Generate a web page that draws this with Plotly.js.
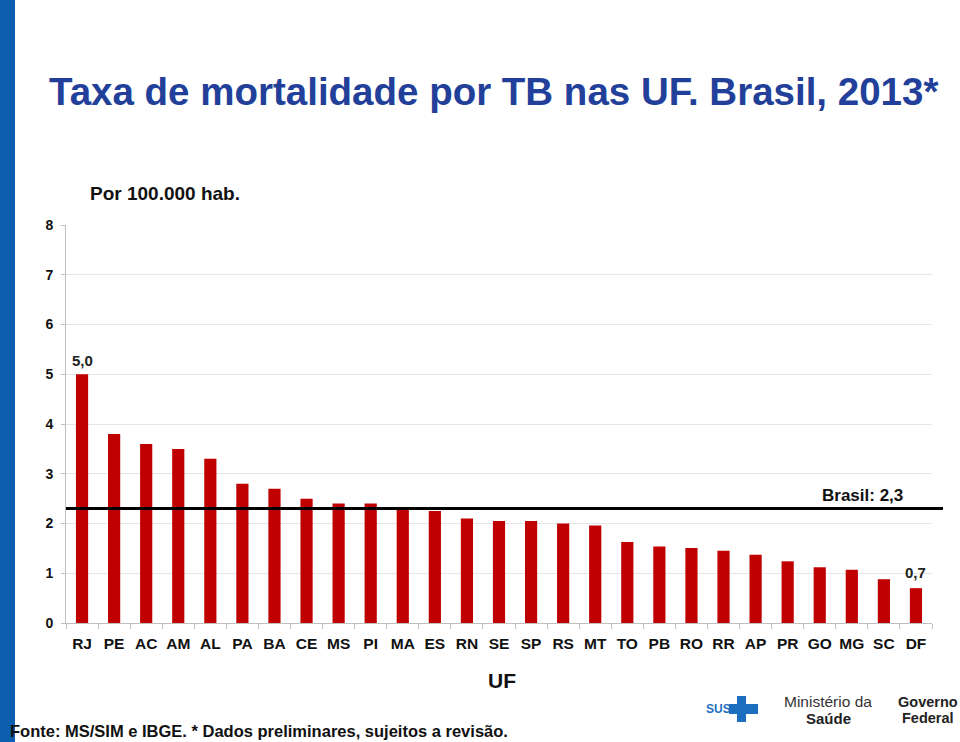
<!DOCTYPE html>
<html>
<head>
<meta charset="utf-8">
<script src="https://cdn.plot.ly/plotly-3.0.1.min.js"></script>
<style>
html,body{margin:0;padding:0;background:#fff;}
#chart{width:960px;height:742px;}
</style>
</head>
<body>
<div id="chart"></div>
<script>
const categories = ["RJ","PE","AC","AM","AL","PA","BA","CE","MS","PI","MA","ES","RN","SE","SP","RS","MT","TO","PB","RO","RR","AP","PR","GO","MG","SC","DF"];
const rates = [5.0,3.8,3.6,3.5,3.3,2.8,2.7,2.5,2.4,2.4,2.3,2.25,2.1,2.05,2.05,2.0,1.96,1.63,1.54,1.51,1.45,1.37,1.24,1.12,1.07,0.88,0.7];
const brasilRate = 2.3;
const yTicks = [0,1,2,3,4,5,6,7,8];

const fontFam = "Liberation Sans, Arial, sans-serif";
const fmt = v => v.toFixed(1).replace('.', ',');

const W = 960, H = 742;
const mL = 66, mR = 28, mT = 225, mB = 119;
const pw = W - mL - mR, ph = H - mT - mB;
// convert page pixel coordinates to paper coordinates
const px = x => (x - mL) / pw;
const py = y => (H - mB - y) / ph;

const trace = {
  type: 'bar',
  x: categories,
  y: rates,
  marker: {color: '#C00000'},
  hoverinfo: 'x+y'
};

const annotations = [
  {x: categories[0], y: rates[0], xref:'x', yref:'y', text: '<b>' + fmt(rates[0]) + '</b>', showarrow:false, yanchor:'bottom', yshift:3,
   font:{family:fontFam, size:15, color:'#222'}},
  {x: categories[categories.length-1], y: rates[rates.length-1], xref:'x', yref:'y', text: '<b>' + fmt(rates[rates.length-1]) + '</b>', showarrow:false, yanchor:'bottom', yshift:5,
   font:{family:fontFam, size:15, color:'#222'}},
  {x: px(862), y: brasilRate, xref:'paper', yref:'y', text: '<b>Brasil: ' + fmt(brasilRate) + '</b>', showarrow:false, xanchor:'center', yanchor:'bottom', yshift:2,
   font:{family:fontFam, size:17, color:'#111'}},
  {x: px(493), y: py(92), xref:'paper', yref:'paper', text: '<b>Taxa de mortalidade por TB nas UF. Brasil, 2013*</b>', showarrow:false,
   xanchor:'center', yanchor:'middle', font:{family:fontFam, size:38.5, color:'#22409A'}},
  {x: px(88), y: py(193), xref:'paper', yref:'paper', text: '<b>Por 100.000 hab.</b>', showarrow:false,
   xanchor:'left', yanchor:'middle', font:{family:fontFam, size:19, color:'#111'}},
  {x: px(502), y: py(680), xref:'paper', yref:'paper', text: '<b>UF</b>', showarrow:false,
   xanchor:'center', yanchor:'middle', font:{family:fontFam, size:21, color:'#111'}},
  {x: px(8), y: py(731), xref:'paper', yref:'paper', text: '<b>Fonte: MS/SIM e IBGE. * Dados preliminares, sujeitos a revisão.</b>', showarrow:false,
   xanchor:'left', yanchor:'middle', font:{family:fontFam, size:16.5, color:'#111'}},
  {x: px(704), y: py(709), xref:'paper', yref:'paper', text: '<b>SUS</b>', showarrow:false,
   xanchor:'left', yanchor:'middle', font:{family:fontFam, size:12, color:'#1C6FBF'}},
  {x: px(828), y: py(701), xref:'paper', yref:'paper', text: 'Ministério da', showarrow:false,
   xanchor:'center', yanchor:'middle', font:{family:fontFam, size:15.5, color:'#333'}},
  {x: px(828), y: py(718), xref:'paper', yref:'paper', text: '<b>Saúde</b>', showarrow:false,
   xanchor:'center', yanchor:'middle', font:{family:fontFam, size:15, color:'#222'}},
  {x: px(928), y: py(702), xref:'paper', yref:'paper', text: '<b>Governo</b>', showarrow:false,
   xanchor:'center', yanchor:'middle', font:{family:fontFam, size:14.5, color:'#222'}},
  {x: px(928), y: py(718), xref:'paper', yref:'paper', text: '<b>Federal</b>', showarrow:false,
   xanchor:'center', yanchor:'middle', font:{family:fontFam, size:14.5, color:'#222'}}
];

const shapes = [
  // blue left band
  {type:'rect', xref:'paper', yref:'paper', x0:px(0), x1:px(15), y0:py(H), y1:py(0), fillcolor:'#0B5FAE', line:{width:0}, layer:'above'},
  // Brasil reference line
  {type:'line', xref:'paper', yref:'y', x0:0, x1:px(943), y0:brasilRate, y1:brasilRate, line:{color:'#000', width:3}, layer:'above'},
  // SUS cross logo
  {type:'rect', xref:'paper', yref:'paper', x0:px(737), x1:px(746), y0:py(722), y1:py(696), fillcolor:'#1C6FBF', line:{width:0}},
  {type:'rect', xref:'paper', yref:'paper', x0:px(729), x1:px(758), y0:py(714), y1:py(704), fillcolor:'#1C6FBF', line:{width:0}}
];

const layout = {
  width: W, height: H,
  margin: {l: mL, r: mR, t: mT, b: mB, pad: 0},
  paper_bgcolor: '#fff', plot_bgcolor: '#fff',
  showlegend: false,
  bargap: 0.62,
  font: {family: fontFam, color: '#111'},
  xaxis: {
    type: 'category',
    tickangle: 0,
    tickfont: {family: fontFam, size: 15.5, color: '#111'},
    tickprefix: '<b>', ticksuffix: '</b>',
    showline: true, linecolor: '#BFBFBF', linewidth: 1,
    ticks: 'outside', ticklen: 5, tickcolor: '#BFBFBF',
    ticklabelstandoff: 6,
    tickson: 'boundaries',
    showgrid: false, fixedrange: true
  },
  yaxis: {
    range: [0, 8],
    tickvals: yTicks,
    ticktext: yTicks.map(v => '<b>' + v + '</b>'),
    tickfont: {family: fontFam, size: 14, color: '#111'},
    showline: true, linecolor: '#BFBFBF', linewidth: 1,
    ticks: 'outside', ticklen: 4, tickcolor: '#BFBFBF',
    ticklabelstandoff: 5,
    showgrid: true, gridcolor: '#E6E6E6', gridwidth: 1,
    zeroline: false, fixedrange: true
  },
  annotations: annotations,
  shapes: shapes
};

Plotly.newPlot('chart', [trace], layout, {displayModeBar: false, staticPlot: true});
</script>
</body>
</html>
